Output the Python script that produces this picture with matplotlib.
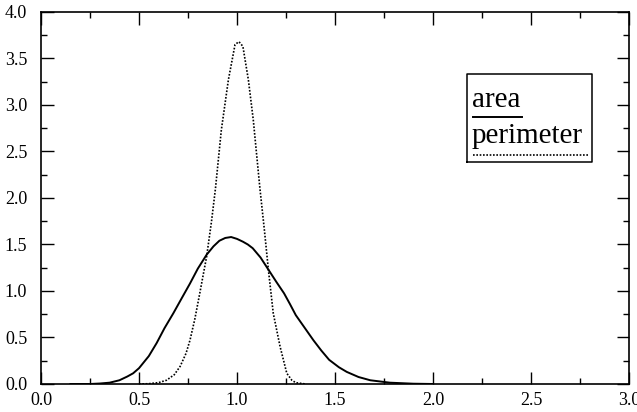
import matplotlib
matplotlib.use("Agg")
import matplotlib.pyplot as plt
from matplotlib.ticker import MultipleLocator, FormatStrFormatter

# ------------------------------------------------------------
# Data
# ------------------------------------------------------------
area_x = [0.15, 0.25, 0.30, 0.35, 0.40, 0.44, 0.47, 0.50, 0.55, 0.59, 0.63,
          0.675, 0.72, 0.76, 0.80, 0.845, 0.88, 0.91, 0.94, 0.97, 1.00,
          1.03, 1.055, 1.08, 1.12, 1.16, 1.20, 1.24, 1.27, 1.30, 1.35, 1.39,
          1.43, 1.47, 1.52, 1.56, 1.62, 1.68, 1.78, 1.90, 2.00]
area_y = [0.0, 0.0, 0.005, 0.014, 0.04, 0.08, 0.115, 0.17, 0.30, 0.44, 0.60,
          0.76, 0.93, 1.08, 1.24, 1.39, 1.48, 1.54, 1.57, 1.58, 1.56,
          1.53, 1.50, 1.46, 1.36, 1.23, 1.10, 0.975, 0.86, 0.74, 0.59, 0.47,
          0.36, 0.26, 0.18, 0.13, 0.075, 0.04, 0.014, 0.003, 0.0]

perim_x = [0.50, 0.55, 0.60, 0.64, 0.68, 0.71, 0.74, 0.76, 0.785, 0.81,
           0.845, 0.87, 0.89, 0.92, 0.956, 0.99, 1.01, 1.03, 1.058, 1.083,
           1.117, 1.14, 1.16, 1.185, 1.22, 1.254, 1.28, 1.30, 1.35]
perim_y = [0.0, 0.003, 0.015, 0.04, 0.10, 0.19, 0.33, 0.47, 0.70, 0.975,
           1.37, 1.75, 2.10, 2.73, 3.27, 3.65, 3.68, 3.63, 3.27, 2.84,
           2.10, 1.65, 1.23, 0.76, 0.40, 0.115, 0.04, 0.014, 0.0]

labels = ["area", "perimeter"]

# ------------------------------------------------------------
# Plot
# ------------------------------------------------------------
plt.rcParams["font.family"] = ["Liberation Serif", "DejaVu Serif"]

fig = plt.figure(figsize=(6.37, 4.12), dpi=100)
ax = fig.add_axes([0.0644, 0.068, 0.923, 0.903])

ax.plot(area_x, area_y, color="black", lw=1.4, solid_joinstyle="round")
ax.plot(perim_x, perim_y, color="black", lw=1.2, linestyle=(0, (1, 1)))

ax.set_xlim(0, 3.0)
ax.set_ylim(0, 4.0)
ax.xaxis.set_major_locator(MultipleLocator(0.5))
ax.xaxis.set_minor_locator(MultipleLocator(0.25))
ax.yaxis.set_major_locator(MultipleLocator(0.5))
ax.yaxis.set_minor_locator(MultipleLocator(0.25))
ax.xaxis.set_major_formatter(FormatStrFormatter("%.1f"))
ax.yaxis.set_major_formatter(FormatStrFormatter("%.1f"))

ax.tick_params(which="both", direction="in", top=True, right=True,
               labelsize=13, width=1)
ax.tick_params(axis="x", pad=6)
ax.tick_params(axis="y", pad=10)
ax.tick_params(which="major", length=9)
ax.tick_params(which="minor", length=4)
for sp in ax.spines.values():
    sp.set_linewidth(1.2)

# hand-made legend: label text over a line sample
lx0, lx1 = 0.7245, 0.937
ly0, ly1 = 0.597, 0.833
ax.plot([lx0, lx1, lx1, lx0, lx0], [ly0, ly0, ly1, ly1, ly0],
        transform=ax.transAxes, color="black", lw=1.1, clip_on=False)
ax.text(0.733, 0.745, labels[0], transform=ax.transAxes, fontsize=21,
        ha="left", va="baseline")
ax.plot([0.735, 0.818], [0.718, 0.718], transform=ax.transAxes,
        color="black", lw=1.4)
ax.text(0.733, 0.648, labels[1], transform=ax.transAxes, fontsize=21,
        ha="left", va="baseline")
ax.plot([0.735, 0.930], [0.616, 0.616], transform=ax.transAxes,
        color="black", lw=1.2, linestyle=(0, (1, 1)))

fig.savefig("out.png", dpi=100)
